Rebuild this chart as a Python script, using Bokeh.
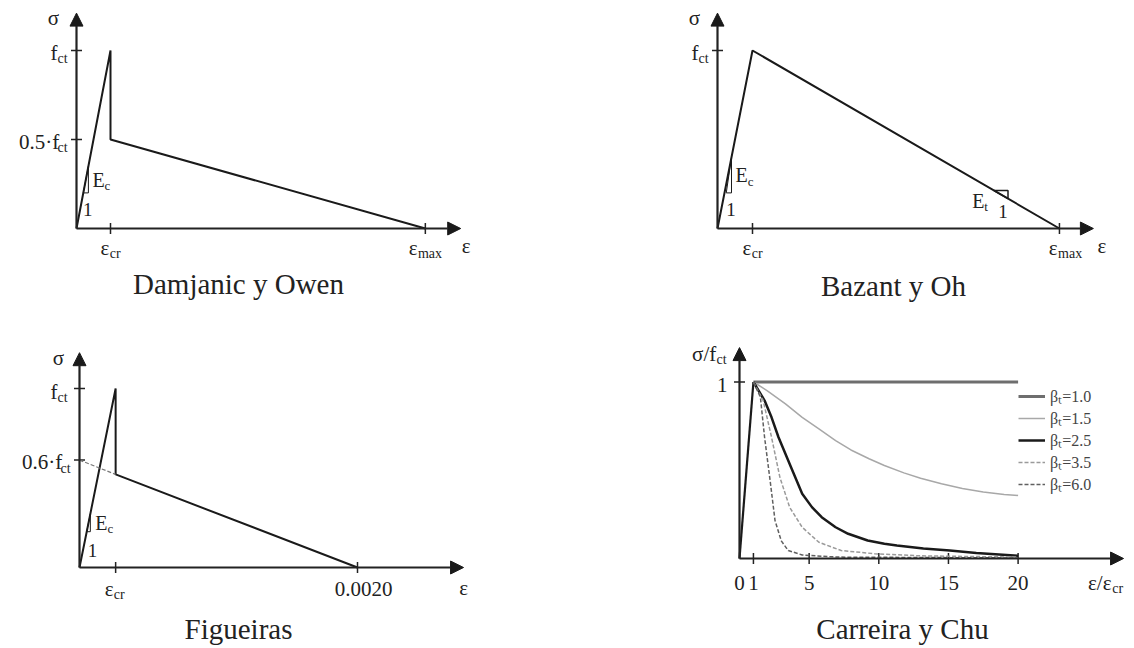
from math import pi
from bokeh.plotting import figure
from bokeh.layouts import column, row
from bokeh.models import Arrow, NormalHead, Label, Legend, LegendItem, Range1d
from bokeh.core.properties import value
from bokeh.embed import file_html
from bokeh.resources import INLINE

# ---------------- data ----------------
# Panel 1: Damjanic y Owen  (x: eps/eps_cr, y: sigma/f_ct)
do_eps = [0.0, 1.0, 1.0, 10.26]
do_sig = [0.0, 1.0, 0.5, 0.0]
do_xticks = [1.0, 10.26]
do_yticks = [1.0, 0.5]
do_tri_x = [0.2, 0.35, 0.35, 0.2]
do_tri_y = [0.2, 0.2, 0.35, 0.2]

# Panel 2: Bazant y Oh
bo_eps = [0.0, 1.0, 9.77]
bo_sig = [0.0, 1.0, 0.0]
bo_xticks = [1.0, 9.77]
bo_yticks = [1.0]
bo_tri_x = [0.25, 0.4, 0.4, 0.25]
bo_tri_y = [0.2, 0.2, 0.4, 0.2]
bo_ttri_x = [7.9, 8.3, 8.3, 7.9]
bo_ttri_y = [0.213, 0.213, 0.168, 0.213]

# Panel 3: Figueiras (x: strain, y: sigma/f_ct)
fg_eps_cr = 0.00026
fg_eps = [0.0, 0.00026, 0.00026, 0.0020]
fg_sig = [0.0, 1.0, 0.52, 0.0]
fg_ext_eps = [0.0, 0.00026]
fg_ext_sig = [0.6, 0.52]
fg_xticks = [0.00026, 0.0020]
fg_yticks = [1.0, 0.6]
fg_tri_x = [0.000052, 0.000078, 0.000078, 0.000052]
fg_tri_y = [0.2, 0.2, 0.3, 0.2]

# Panel 4: Carreira y Chu (x: eps/eps_cr, y: sigma/f_ct)
cc_rise_x = [0.0, 1.0]
cc_rise_y = [0.0, 1.0]
cc_b10_x = [1.0, 20.0]
cc_b10_y = [1.0, 1.0]
cc_b15_x = [1, 2.0, 3.3, 4.5, 5.7, 6.9, 8.0, 9.3, 10.4, 11.8, 13.0, 14.5, 16.0, 17.5, 19.0, 20]
cc_b15_y = [1, 0.95, 0.876, 0.80, 0.735, 0.668, 0.615, 0.565, 0.527, 0.485, 0.455, 0.423, 0.397, 0.377, 0.363, 0.357]
cc_b25_x = [1, 1.8, 2.3, 2.8, 3.7, 4.5, 5.2, 5.9, 6.9, 7.8, 9.2, 10.4, 11.3, 13.2, 15.1, 17.0, 20]
cc_b25_y = [1, 0.895, 0.80, 0.687, 0.517, 0.367, 0.291, 0.234, 0.177, 0.14, 0.102, 0.083, 0.074, 0.057, 0.045, 0.031, 0.015]
cc_b35_x = [1, 1.7, 2.3, 2.9, 3.6, 4.5, 5.7, 7.3, 9.7, 13, 20]
cc_b35_y = [1, 0.895, 0.687, 0.46, 0.29, 0.177, 0.092, 0.045, 0.027, 0.015, 0.008]
cc_b60_x = [1, 1.5, 1.8, 2.2, 2.55, 3.0, 3.5, 4.5, 7, 20]
cc_b60_y = [1, 0.914, 0.687, 0.44, 0.215, 0.10, 0.045, 0.02, 0.008, 0.003]
cc_xticks = [1, 5, 10, 15, 20]
cc_xtick_labels = ["1", "5", "10", "15", "20"]
cc_legend_labels = ["βₜ=1.0", "βₜ=1.5", "βₜ=2.5", "βₜ=3.5", "βₜ=6.0"]

titles = ["Damjanic y Owen", "Bazant y Oh", "Figueiras", "Carreira y Chu"]

# ---------------- helpers ----------------
W, H = 567, 324
FONT = "Liberation Serif"
INK = "#1a1a1a"
AX = "#222222"
LS, SS = 21, 14  # label size, subscript size

CW = {".": 0.25, "·": 0.25, "f": 0.33, "ε": 0.44, "c": 0.44, "t": 0.28, "r": 0.33,
      "m": 0.78, "a": 0.44, "x": 0.5, "E": 0.61, "σ": 0.55, "/": 0.28}


def est_w(s, size):
    return sum(CW.get(ch, 0.5) for ch in s) * size


def make_fig(ox, oy, sx, sy):
    p = figure(width=W, height=H,
               x_range=Range1d(-ox / sx, (W - ox) / sx),
               y_range=Range1d(-(H - oy) / sy, oy / sy),
               output_backend="svg", toolbar_location=None,
               x_axis_location=None, y_axis_location=None, min_border=0)
    p.grid.visible = False
    p.outline_line_color = None
    p.background_fill_color = "white"
    p.border_fill_color = "white"
    return p


def txt(p, x, y, s, size=LS, align="center", dx=0, dy=0, color="#222"):
    p.text(x=[x], y=[y], text=[s], x_offset=dx, y_offset=dy, text_align=align,
           text_baseline="middle", text_font=value(FONT),
           text_font_size=f"{size}px", text_color=color)


def sub_txt(p, x, y, main, sub, align="center", dx=0, dy=0, size=LS, subsize=SS):
    mw = est_w(main, size)
    sw = est_w(sub, subsize)
    if align == "center":
        left = dx - (mw + sw) / 2
    elif align == "right":
        left = dx - (mw + sw)
    else:
        left = dx
    txt(p, x, y, main, size, "left", left, dy)
    txt(p, x, y, sub, subsize, "left", left + mw, dy + 6)


def axes(p, xtip, ytip, color=AX):
    for xe, ye in ((xtip, 0), (0, ytip)):
        p.add_layout(Arrow(end=NormalHead(size=13, fill_color=INK, line_color=INK),
                           x_start=0, y_start=0, x_end=xe, y_end=ye,
                           line_width=2.2, line_color=color))


def ticks(p, xt, yt):
    if xt:
        p.scatter(x=xt, y=[0] * len(xt), marker="dash", size=11, angle=pi / 2,
                  line_color=AX, line_width=1.5)
    if yt:
        p.scatter(x=[0] * len(yt), y=yt, marker="dash", size=11,
                  line_color=AX, line_width=1.5)


def title(p, s, sx, sy):
    p.add_layout(Label(x=sx, y=sy, x_units="screen", y_units="screen", text=s,
                       text_align="center", text_baseline="middle",
                       text_font=FONT, text_font_size="29px", text_color="#222"))


# ---------------- panel 1 ----------------
p1 = make_fig(76, 228, 34, 178)
axes(p1, 11.3, 1.21)
ticks(p1, do_xticks, do_yticks)
p1.line(do_eps, do_sig, line_width=2, line_color=INK)
p1.line(do_tri_x, do_tri_y, line_width=1, line_color=INK)
txt(p1, 0, 1.21, "σ", LS, "center", -23, 5)
sub_txt(p1, 0, do_yticks[0], "f", "ct", "right", -9, 2)
sub_txt(p1, 0, do_yticks[1], "0.5·f", "ct", "right", -9, 2)
sub_txt(p1, do_xticks[0], 0, "ε", "cr", "center", 0, 19)
sub_txt(p1, do_xticks[1], 0, "ε", "max", "center", 0, 19)
txt(p1, 11.3, 0, "ε", LS, "left", 1, 17)
sub_txt(p1, do_tri_x[1], (do_tri_y[1] + do_tri_y[2]) / 2, "E", "c", "left", 4, 0, 20, 13)
txt(p1, (do_tri_x[0] + do_tri_x[1]) / 2, do_tri_y[0], "1", 19, "center", 2, 17)
title(p1, titles[0], 238, 41)

# ---------------- panel 2 ----------------
p2 = make_fig(150, 228, 35, 178)
axes(p2, 10.74, 1.21)
ticks(p2, bo_xticks, bo_yticks)
p2.line(bo_eps, bo_sig, line_width=2, line_color=INK)
p2.line(bo_tri_x, bo_tri_y, line_width=1, line_color=INK)
p2.line(bo_ttri_x, bo_ttri_y, line_width=1.5, line_color=INK)
txt(p2, 0, 1.21, "σ", LS, "center", -23, 5)
sub_txt(p2, 0, bo_yticks[0], "f", "ct", "right", -9, 2)
sub_txt(p2, bo_xticks[0], 0, "ε", "cr", "center", 0, 19)
sub_txt(p2, bo_xticks[1], 0, "ε", "max", "center", 6, 19)
txt(p2, 10.74, 0, "ε", LS, "left", 4, 17)
sub_txt(p2, bo_tri_x[1], (bo_tri_y[1] + bo_tri_y[2]) / 2, "E", "c", "left", 4, 0, 20, 13)
txt(p2, (bo_tri_x[0] + bo_tri_x[1]) / 2, bo_tri_y[0], "1", 19, "center", 2, 17)
sub_txt(p2, bo_ttri_x[0], bo_ttri_y[0], "E", "t", "right", -6, 10, 20, 13)
txt(p2, (bo_ttri_x[0] + bo_ttri_x[1]) / 2, bo_ttri_y[0], "1", 19, "center", 2, 21)
title(p2, titles[1], 326, 39)

# ---------------- panel 3 ----------------
p3 = make_fig(79, 243, 139000, 179)
axes(p3, 0.002763, 1.20)
ticks(p3, fg_xticks, fg_yticks)
p3.line(fg_eps, fg_sig, line_width=2, line_color=INK)
p3.line(fg_ext_eps, fg_ext_sig, line_width=1.2, line_color="#777", line_dash="4 2")
p3.line(fg_tri_x, fg_tri_y, line_width=1, line_color=INK)
txt(p3, 0, 1.20, "σ", LS, "center", -21, 5)
sub_txt(p3, 0, fg_yticks[0], "f", "ct", "right", -12, 3)
sub_txt(p3, 0, fg_yticks[1], "0.6·f", "ct", "right", -9, 2)
sub_txt(p3, fg_xticks[0], 0, "ε", "cr", "center", -1, 21)
txt(p3, fg_xticks[1], 0, "0.0020", LS, "center", 6, 21)
txt(p3, 0.002763, 0, "ε", LS, "center", 0, 20)
sub_txt(p3, fg_tri_x[1], (fg_tri_y[1] + fg_tri_y[2]) / 2, "E", "c", "left", 5, 0, 20, 13)
txt(p3, (fg_tri_x[0] + fg_tri_x[1]) / 2, fg_tri_y[0], "1", 19, "center", 4, 19)
title(p3, titles[2], 238, 20)

# ---------------- panel 4 ----------------
p4 = make_fig(172, 234, 13.93, 176.5)
axes(p4, 27.57, 1.195)
ticks(p4, cc_xticks, [1.0])
p4.line(cc_rise_x, cc_rise_y, line_width=2.2, line_color=INK)
r10 = p4.line(cc_b10_x, cc_b10_y, line_width=3, line_color="#6e6e6e")
r15 = p4.line(cc_b15_x, cc_b15_y, line_width=1.5, line_color="#a8a8a8")
r25 = p4.line(cc_b25_x, cc_b25_y, line_width=2.5, line_color="#1a1a1a")
r35 = p4.line(cc_b35_x, cc_b35_y, line_width=1.5, line_color="#9a9a9a", line_dash="4 2")
r60 = p4.line(cc_b60_x, cc_b60_y, line_width=1.5, line_color="#606060", line_dash="4 2")
sub_txt(p4, 0, 1.195, "σ/f", "ct", "right", -13, 6)
txt(p4, 0, 1.0, "1", LS, "right", -12, 3)
txt(p4, 0, 0, "0", LS, "center", 0, 24)
for xv, lab in zip(cc_xticks, cc_xtick_labels):
    txt(p4, xv, 0, lab, LS, "center", 0, 24)
sub_txt(p4, 27.57, 0, "ε/ε", "cr", "center", -18, 24)
legend = Legend(items=[LegendItem(label=l, renderers=[r]) for l, r in
                       zip(cc_legend_labels, [r10, r15, r25, r35, r60])],
                location=(451, 153), orientation="vertical", margin=0, padding=0,
                spacing=0, glyph_width=27, glyph_height=22, label_height=22,
                label_standoff=5, label_text_font=FONT, label_text_font_size="16px",
                label_text_color="#444", border_line_color=None,
                background_fill_alpha=0)
p4.add_layout(legend)
title(p4, titles[3], 335, 20)

layout = column(row(p1, p2), row(p3, p4))
open("out.html", "w").write(file_html(layout, INLINE))
